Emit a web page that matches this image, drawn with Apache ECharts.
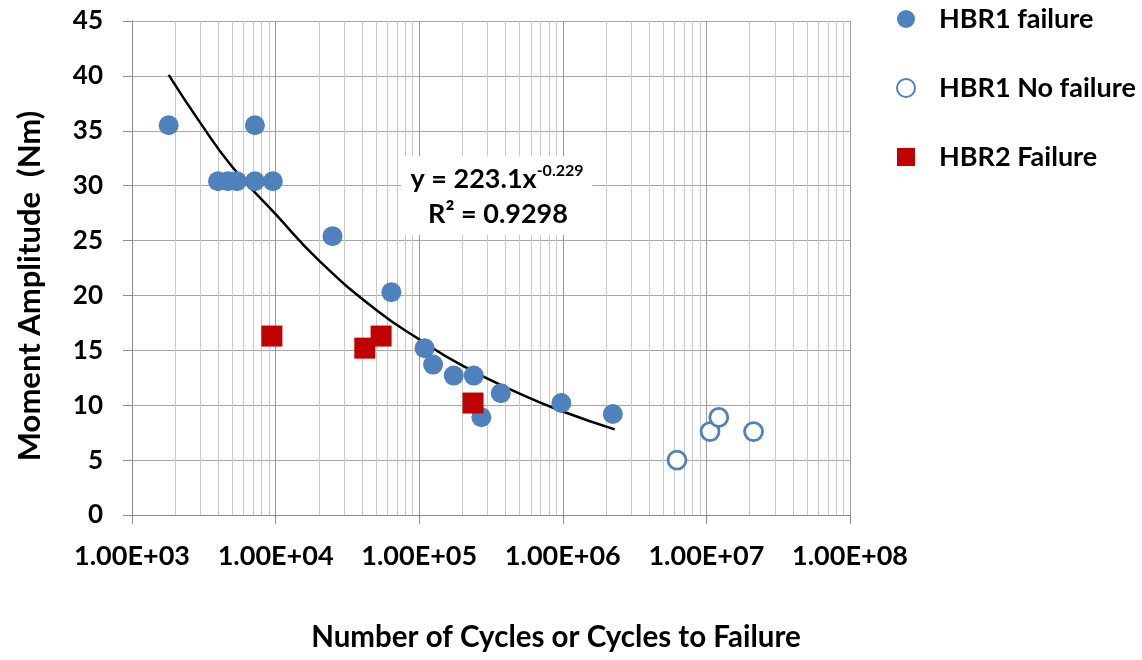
<!DOCTYPE html>
<html>
<head>
<meta charset="utf-8">
<script src="https://cdn.jsdelivr.net/npm/echarts@6/dist/echarts.min.js"></script>
<style>
  html, body { margin: 0; padding: 0; background: #fff; }
  #chart { width: 1142px; height: 660px; }
</style>
</head>
<body>
<div id="chart"></div>
<script>
// ---- Data ----
const hbr1FailureCycles = [1800, 7180, 3970, 4660, 5380, 7180, 9570, 24900, 64000, 109000, 125000, 174000, 240000, 271000, 370000, 977000, 2230000];
const hbr1FailureMoment = [35.5, 35.5, 30.4, 30.4, 30.4, 30.4, 30.4, 25.4, 20.3, 15.2, 13.7, 12.7, 12.7, 8.9, 11.1, 10.2, 9.2];

const hbr1NoFailCycles = [6240000, 10600000, 12200000, 21300000];
const hbr1NoFailMoment = [5.0, 7.6, 8.9, 7.6];

const hbr2FailureCycles = [9420, 41800, 54300, 237000];
const hbr2FailureMoment = [16.3, 15.2, 16.3, 10.2];

// Power trend line y = 223.1x^-0.229
const trendCycles = [1800, 3000, 5000, 10000, 20000, 50000, 100000, 200000, 500000, 1000000, 2300000];
const trendMoment = [40.1, 35.7, 31.7, 27.4, 23.2, 18.7, 16.0, 13.6, 11.05, 9.43, 7.8];

const xTickLabels = ['1.00E+03', '1.00E+04', '1.00E+05', '1.00E+06', '1.00E+07', '1.00E+08'];
const yTicks = [0, 5, 10, 15, 20, 25, 30, 35, 40, 45];

const seriesNames = ['HBR1 failure', 'HBR1 No failure', 'HBR2 Failure'];
const equationText = 'y = 223.1x';
const equationExp = '-0.229';
const rSquaredText = 'R\u00B2 = 0.9298';

// ---- Build ----
const FONT = 'Lato';
const BLUE = '#4F81BD';
const RED = '#C00000';

function zip(a, b) { return a.map((v, i) => [v, b[i]]); }

// minor log grid lines (2..9 in each decade)
const minorLines = [];
for (let d = 3; d < 8; d++) {
  for (let k = 2; k <= 9; k++) minorLines.push({ xAxis: k * Math.pow(10, d) });
}

const chart = echarts.init(document.getElementById('chart'), null, { renderer: 'canvas' });

chart.setOption({
  animation: false,
  backgroundColor: '#ffffff',
  textStyle: { fontFamily: FONT },
  grid: { left: 132, right: 292, top: 21, bottom: 145, containLabel: false },
  xAxis: {
    type: 'log',
    logBase: 10,
    min: 1000,
    max: 100000000,
    name: 'Number of Cycles or Cycles to Failure',
    nameLocation: 'middle',
    nameGap: 122,
    nameTextStyle: { fontFamily: FONT, fontWeight: 'bold', fontSize: 29.5, color: '#000', verticalAlign: 'middle', padding: [0, 0, 0, 130] },
    axisLine: { show: true, lineStyle: { color: '#8c8c8c', width: 1 } },
    axisTick: { show: true, inside: false, length: 9, lineStyle: { color: '#8c8c8c' } },
    axisLabel: {
      margin: 28,
      fontFamily: FONT, fontWeight: 'bold', fontSize: 27, color: '#000',
      formatter: function (v) {
        const i = Math.round(Math.log10(v)) - 3;
        return xTickLabels[i] || '';
      }
    },
    splitLine: { show: true, lineStyle: { color: '#999999', width: 1 } }
  },
  yAxis: {
    type: 'value',
    min: 0,
    max: 45,
    interval: 5,
    name: 'Moment Amplitude  (Nm)',
    nameLocation: 'middle',
    nameGap: 102,
    nameRotate: 90,
    nameTextStyle: { fontFamily: FONT, fontWeight: 'bold', fontSize: 31, color: '#000', verticalAlign: 'middle', padding: [0, 36, 0, 0] },
    axisLine: { show: true, lineStyle: { color: '#8c8c8c', width: 1 } },
    axisTick: { show: true, inside: false, length: 9, lineStyle: { color: '#8c8c8c' } },
    axisLabel: {
      margin: 29,
      fontFamily: FONT, fontWeight: 'bold', fontSize: 26, color: '#000',
      formatter: function (v) { return yTicks.indexOf(v) >= 0 ? String(v) : ''; }
    },
    splitLine: { show: true, lineStyle: { color: '#a6a6a6', width: 1 } }
  },
  legend: {
    orient: 'vertical',
    left: 896,
    top: 4,
    padding: 0,
    itemWidth: 18,
    itemHeight: 18,
    itemGap: 39,
    textStyle: { fontFamily: FONT, fontWeight: 'bold', fontSize: 27, color: '#000', lineHeight: 30, padding: [0, 0, 0, 19] },
    data: [
      { name: seriesNames[0], icon: 'circle' },
      { name: seriesNames[1], icon: 'circle' },
      { name: seriesNames[2], icon: 'rect' }
    ]
  },
  series: [
    {
      name: 'trend',
      type: 'line',
      data: zip(trendCycles, trendMoment),
      smooth: true,
      showSymbol: false,
      symbol: 'none',
      silent: true,
      z: 2,
      lineStyle: { color: '#000', width: 2.5 },
      markLine: {
        silent: true,
        symbol: ['none', 'none'],
        label: { show: false },
        lineStyle: { color: '#c8c8c8', width: 1, type: 'solid' },
        emphasis: { disabled: true },
        data: minorLines,
        z: 1
      }
    },
    {
      name: seriesNames[0],
      type: 'scatter',
      symbol: 'circle',
      symbolSize: 20,
      z: 4,
      itemStyle: { color: BLUE, opacity: 1 },
      data: zip(hbr1FailureCycles, hbr1FailureMoment)
    },
    {
      name: seriesNames[1],
      type: 'scatter',
      symbol: 'circle',
      symbolSize: 18,
      z: 4,
      itemStyle: { color: '#ffffff', borderColor: BLUE, borderWidth: 2.8, opacity: 1 },
      data: zip(hbr1NoFailCycles, hbr1NoFailMoment)
    },
    {
      name: seriesNames[2],
      type: 'scatter',
      symbol: 'rect',
      symbolSize: 21,
      z: 5,
      itemStyle: { color: RED, opacity: 1 },
      data: zip(hbr2FailureCycles, hbr2FailureMoment)
    }
  ],
  graphic: [
    {
      type: 'rect',
      z: 100,
      shape: { x: 401, y: 156, width: 191, height: 79 },
      style: { fill: '#ffffff' },
      silent: true
    },
    {
      type: 'text',
      z: 101,
      x: 497,
      y: 179,
      silent: true,
      style: {
        text: '{a|' + equationText + '}{b|' + equationExp + '}',
        align: 'center',
        verticalAlign: 'middle',
        rich: {
          a: { fontFamily: FONT, fontWeight: 'bold', fontSize: 27, fill: '#000', lineHeight: 32 },
          b: { fontFamily: FONT, fontWeight: 'bold', fontSize: 16, fill: '#000', verticalAlign: 'top', lineHeight: 20 }
        }
      }
    },
    {
      type: 'text',
      z: 101,
      x: 498,
      y: 214,
      silent: true,
      style: {
        text: rSquaredText,
        align: 'center',
        verticalAlign: 'middle',
        font: 'bold 27px ' + FONT,
        fill: '#000'
      }
    }
  ]
});
</script>
</body>
</html>
